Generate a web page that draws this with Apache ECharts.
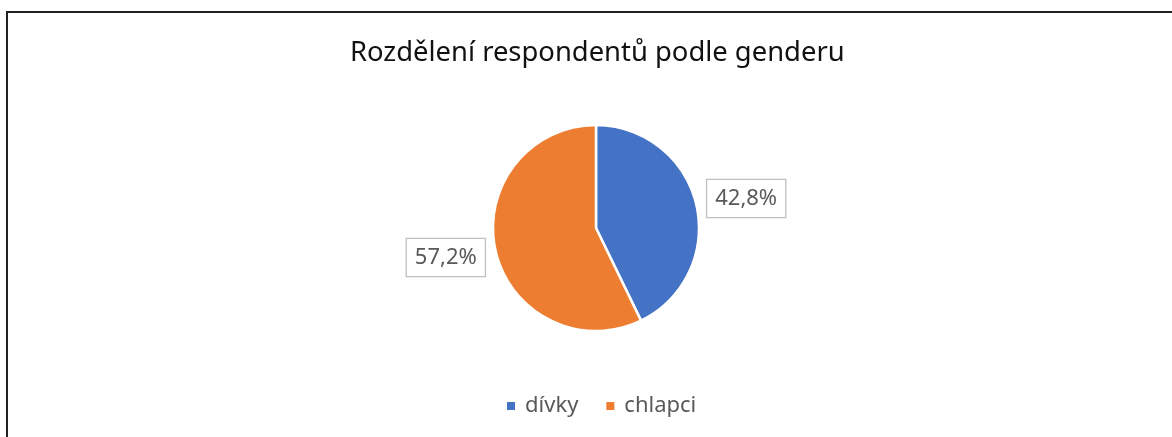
<!DOCTYPE html>
<html>
<head>
<meta charset="utf-8">
<script src="https://cdn.jsdelivr.net/npm/echarts@6/dist/echarts.min.js"></script>
<style>
    html, body { margin: 0; padding: 0; background: #fff; overflow: hidden; }
    #chart { width: 1172px; height: 437px; }
    #frame {
        position: absolute; left: 6px; top: 11px; width: 1200px; height: 500px;
        border-top: 2px solid #222; border-left: 2px solid #222; pointer-events: none;
    }
</style>
</head>
<body>
<div id="chart"></div>
<div id="frame"></div>
<script>
    var titleText = "Rozdělení respondentů podle genderu";
    var categories = ["dívky", "chlapci"];
    var values = [42.8, 57.2];
    var colors = ["#4472C4", "#ED7D31"];
    var labelShift = [[0, -5], [0, 5]];

    var chart = echarts.init(document.getElementById("chart"));
    var data = [];
    for (var i = 0; i < categories.length; i++) {
        data.push({
            name: categories[i],
            value: values[i],
            itemStyle: {color: colors[i]},
            label: {offset: labelShift[i]}
        });
    }

    var option = {
        backgroundColor: "#fff",
        animation: false,
        title: {
            text: titleText,
            left: 345,
            top: 35,
            textStyle: {
                color: "#111",
                fontSize: 27.4,
                fontWeight: "normal",
                fontFamily: "Noto Sans"
            }
        },
        legend: {
            bottom: 15,
            left: 500,
            itemWidth: 10,
            itemHeight: 10,
            itemGap: 26,
            icon: "rect",
            textStyle: {
                color: "#595959",
                fontSize: 22,
                fontFamily: "Noto Sans",
                padding: [0, 0, 0, 4]
            },
            data: categories
        },
        series: [{
            type: "pie",
            center: [596, 228],
            radius: 103,
            startAngle: 90,
            clockwise: true,
            itemStyle: {borderColor: "#fff", borderWidth: 2.5},
            label: {
                show: true,
                position: "outside",
                formatter: function (p) {
                    return p.value.toFixed(1).replace(".", ",") + "%";
                },
                color: "#595959",
                fontSize: 22,
                fontFamily: "Noto Sans",
                backgroundColor: "#fff",
                borderColor: "#BFBFBF",
                borderWidth: 1.3,
                padding: [8, 8, 7, 8]
            },
            labelLine: {show: false, length: 6, length2: 0},
            data: data
        }]
    };
    chart.setOption(option);
</script>
</body>
</html>
